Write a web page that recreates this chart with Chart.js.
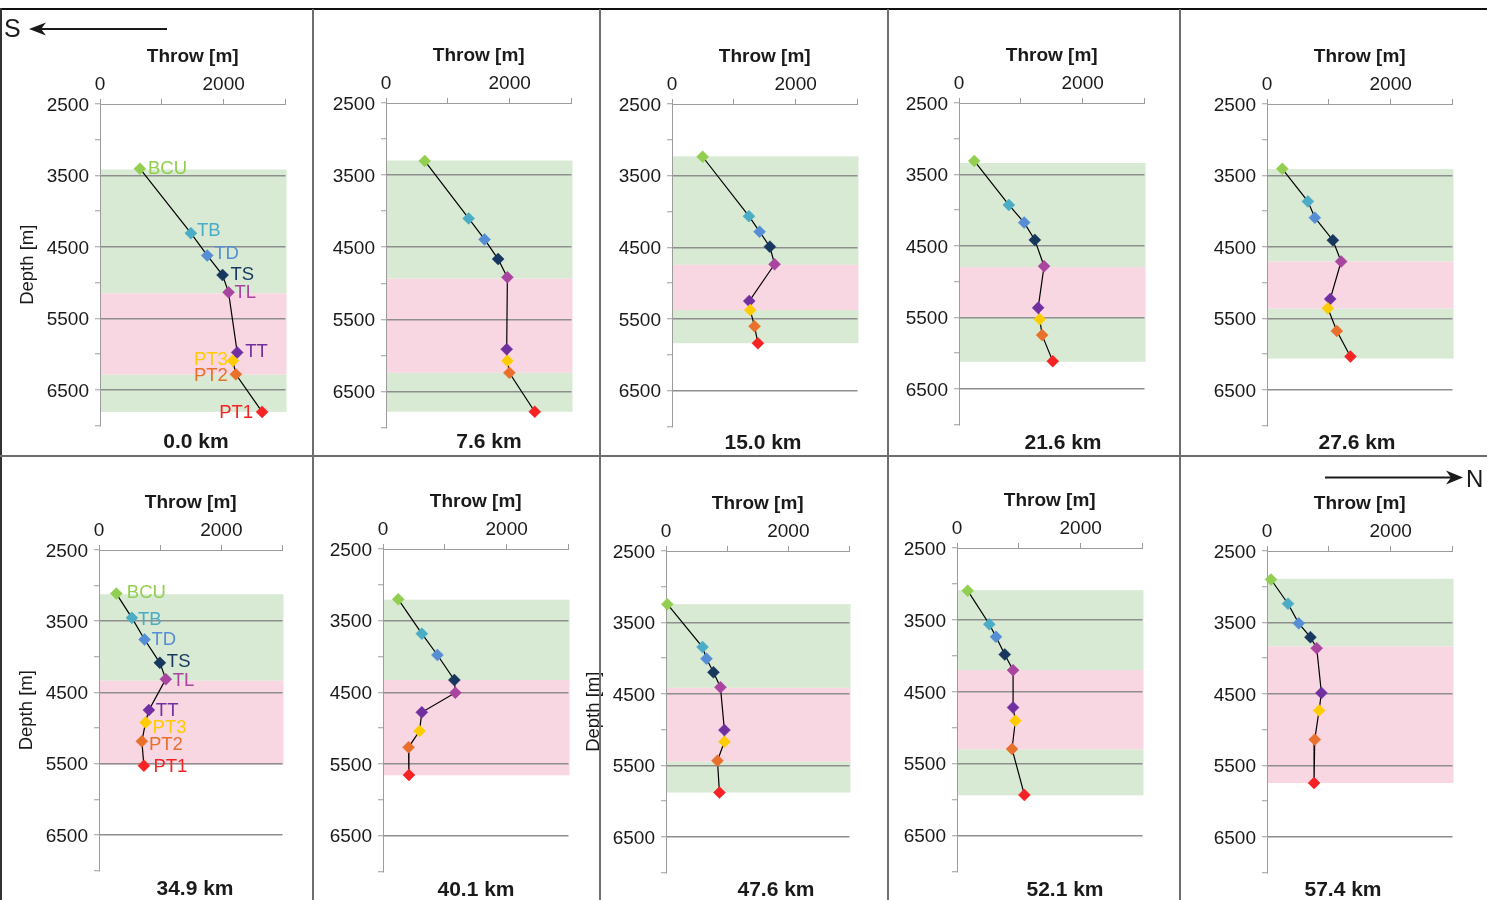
<!DOCTYPE html>
<html>
<head>
<meta charset="utf-8">
<script src="https://cdn.jsdelivr.net/npm/chart.js@4.4.1/dist/chart.umd.min.js"></script>
<style>
  html, body { margin: 0; padding: 0; background: #fff; }
  #sheet { position: relative; width: 1487px; height: 900px; overflow: hidden;
           font-family: 'Liberation Sans', Arial, sans-serif; color: #1a1a1a; }
  #sheet canvas { position: absolute; }
  .rule { position: absolute; background: #6e6e6e; z-index: 5; }
  .cap { position: absolute; font-weight: bold; font-size: 21px; line-height: 21px;
         white-space: nowrap; transform: translateX(-50%); z-index: 4; }
  #marks { position: absolute; left: 0; top: 0; z-index: 6; pointer-events: none; }
</style>
</head>
<body>
<div id="sheet"></div>
<script>
// ---- Horizons picked along the fault, top to bottom ----
const horizons = ['BCU', 'TB', 'TD', 'TS', 'TL', 'TT', 'PT3', 'PT2', 'PT1'];
const horizonColors = ['#92cf50', '#4bacc6', '#558ed5', '#17375e', '#a9449f',
                       '#7030a0', '#ffcc00', '#e8702a', '#f52323'];

// ---- Distance of each section along strike ----
const sectionKm = ['0.0 km', '7.6 km', '15.0 km', '21.6 km', '27.6 km',
                   '34.9 km', '40.1 km', '47.6 km', '52.1 km', '57.4 km'];

// ---- Throw [m] and depth [m] of each horizon, per section ----
const throw00 = [646, 1470, 1734, 1982, 2079, 2219, 2149, 2197, 2622];
const depth00 = [3406, 4308, 4620, 4894, 5136, 5977, 6094, 6284, 6810];
const throw08 = [626, 1337, 1594, 1813, 1963, 1952, 1963, 1995, 2406];
const depth08 = [3303, 4101, 4392, 4664, 4918, 5914, 6076, 6242, 6781];
const throw15 = [495, 1244, 1416, 1583, 1659, 1249, 1265, 1335, 1389];
const depth15 = [3236, 4065, 4282, 4491, 4736, 5250, 5375, 5602, 5838];
const throw22 = [247, 806, 1054, 1226, 1376, 1280, 1306, 1344, 1516];
const depth22 = [3311, 3927, 4174, 4416, 4784, 5367, 5526, 5749, 6113];
const throw28 = [247, 661, 774, 1065, 1199, 1022, 984, 1129, 1349];
const depth28 = [3407, 3863, 4091, 4407, 4705, 5230, 5360, 5677, 6035];
const throw35 = [283, 538, 745, 995, 1092, 815, 761, 701, 734];
const depth35 = [3112, 3453, 3757, 4084, 4313, 4748, 4921, 5187, 5528];
const throw40 = [247, 628, 880, 1154, 1170, 628, 590, 413, 419];
const depth40 = [3202, 3681, 3979, 4328, 4505, 4779, 5040, 5267, 5653];
const throw48 = [22, 597, 662, 776, 890, 955, 955, 841, 874];
const depth48 = [3244, 3844, 4007, 4198, 4407, 5007, 5170, 5435, 5881];
const throw52 = [173, 523, 631, 772, 907, 907, 944, 890, 1090];
const depth52 = [3093, 3560, 3736, 3981, 4199, 4718, 4903, 5296, 5935];
const throw57 = [65, 340, 513, 702, 804, 880, 842, 772, 761];
const depth57 = [2899, 3238, 3512, 3706, 3860, 4486, 4732, 5140, 5748];

const throwSeries = [throw00, throw08, throw15, throw22, throw28, throw35, throw40, throw48, throw52, throw57];
const depthSeries = [depth00, depth08, depth15, depth22, depth28, depth35, depth40, depth48, depth52, depth57];

// ---- Depth intervals [m]: upper green zone, pink zone, lower green zone ----
const greenTop  = [3416, 3298, 3231, 3339, 3412, 3121, 3207, 3244, 3088, 2890];
const pinkTop   = [5150, 4936, 4745, 4798, 4705, 4336, 4328, 4416, 4199, 3836];
const pinkBase  = [6289, 6242, 5375, 5493, 5365, 5514, 5658, 5449, 5301, 5748];
const greenBase = [6810, 6781, 5838, 6122, 6063, null, null, 5881, 5940, null];

// ---- Axis ranges and labelled ticks ----
const throwMin = 0, throwMax = 3000, throwStep = 1000;
const throwLabels = [0, 2000];
const depthMin = 2500, depthMax = 7000, depthStep = 500;
const depthLabels = [2500, 3500, 4500, 5500, 6500];
const depthGrid = [3500, 4500, 5500, 6500];

// ---- Page layout: plot rectangle of each panel (x0, x1, y0, y1) ----
const frames = [
  [100, 286, 104, 426], [386, 572, 103, 428], [672, 858, 104, 427],
  [959, 1145, 103, 425], [1267, 1453, 104, 426],
  [99, 283, 550, 871], [383, 569, 549, 872], [666, 850, 551, 873],
  [957, 1143, 548, 872], [1267, 1453, 551, 873]
];
const captionPos = [[196, 440], [489, 440], [763, 441], [1063, 441], [1357, 441],
                    [195, 887], [476, 888], [776, 888], [1065, 888], [1343, 888]];
const depthTitleOn = [true, false, false, false, false, true, false, true, false, false];
// label offsets (dx, dy, align) for the annotated sections
const labelOffsets = {
  0: [[8, 0, 'left'], [6, -2.5, 'left'], [7, -2, 'left'], [8, -1, 'left'], [6, 0, 'left'],
      [8, -1, 'left'], [-5, -1, 'right'], [-8, 1, 'right'], [-9, 0, 'right']],
  5: [[10.5, -1, 'left'], [6, 2, 'left'], [7, 0, 'left'], [7, -1, 'left'], [7, 1, 'left'],
      [7, 0, 'left'], [7, 4.5, 'left'], [7, 3.5, 'left'], [9.5, 0.5, 'left']]
};

const FONT = "'Liberation Sans', Arial, sans-serif";
const INK = '#1a1a1a';
const AXIS = '#9c9c9c';
const GRID = '#8e8e8e';
const GREEN = 'rgb(216,234,212)';
const PINK = 'rgb(248,214,226)';
Chart.defaults.font.family = FONT;
Chart.defaults.color = INK;

// zone shading, drawn under the grid
const zonePlugin = {
  id: 'zones',
  beforeDraw(chart, args, opts) {
    const y = chart.scales.y, a = chart.chartArea, ctx = chart.ctx;
    const band = (top, base, color) => {
      if (top == null || base == null) return;
      const p0 = y.getPixelForValue(top), p1 = y.getPixelForValue(base);
      ctx.fillStyle = color;
      ctx.fillRect(a.left, p0, a.right - a.left + 1, p1 - p0);
    };
    ctx.save();
    band(opts.greenTop, opts.pinkTop, GREEN);
    band(opts.pinkTop, opts.pinkBase, PINK);
    band(opts.pinkBase, opts.greenBase, GREEN);
    ctx.restore();
  }
};

// horizon names next to the markers
const horizonLabelPlugin = {
  id: 'horizonLabels',
  afterDatasetsDraw(chart, args, opts) {
    if (!opts.offsets) return;
    const {x, y} = chart.scales, ctx = chart.ctx;
    const pts = chart.data.datasets[0].data;
    ctx.save();
    ctx.font = '18.5px ' + FONT;
    ctx.textBaseline = 'middle';
    opts.offsets.forEach((o, i) => {
      ctx.fillStyle = horizonColors[i];
      ctx.textAlign = o[2];
      ctx.fillText(horizons[i], x.getPixelForValue(pts[i].x) + o[0], y.getPixelForValue(pts[i].y) + o[1] + 0.5);
    });
    ctx.restore();
  }
};

const sheet = document.getElementById('sheet');
const L = 83, T = 60, R = 6, B = 6;

frames.forEach((f, i) => {
  const cv = document.createElement('canvas');
  const w = f[1] - f[0] + L + R, h = f[3] - f[2] + T + B;
  cv.width = w; cv.height = h;
  cv.style.left = (f[0] - L) + 'px';
  cv.style.top = (f[2] - T) + 'px';
  cv.style.width = w + 'px'; cv.style.height = h + 'px';
  sheet.appendChild(cv);

  const pts = throwSeries[i].map((t, k) => ({x: t, y: depthSeries[i][k]}));

  new Chart(cv, {
    type: 'scatter',
    data: {
      datasets: [{
        data: pts,
        showLine: true,
        borderColor: '#000',
        borderWidth: 1.2,
        pointStyle: 'rectRot',
        pointRadius: 6,
        pointBorderWidth: 0.5,
        pointBackgroundColor: horizonColors,
        pointBorderColor: horizonColors,
        clip: false
      }]
    },
    options: {
      responsive: false,
      animation: false,
      devicePixelRatio: 1,
      layout: { padding: { left: 0, top: 0, right: R, bottom: B } },
      plugins: {
        legend: { display: false },
        tooltip: { enabled: false },
        zones: { greenTop: greenTop[i], pinkTop: pinkTop[i], pinkBase: pinkBase[i], greenBase: greenBase[i] },
        horizonLabels: { offsets: labelOffsets[i] || null }
      },
      scales: {
        x: {
          type: 'linear', position: 'top', min: throwMin, max: throwMax,
          afterFit: s => { s.height = T; s.paddingLeft = 0; s.paddingRight = 0; },
          ticks: {
            stepSize: throwStep, autoSkip: false, maxRotation: 0, padding: 3,
            font: { size: 19 }, color: INK,
            callback: v => throwLabels.includes(v) ? String(v) : ''
          },
          grid: { drawOnChartArea: false, drawTicks: true, tickLength: 5, tickColor: AXIS, tickWidth: 1 },
          border: { display: true, color: AXIS, width: 1 },
          title: { display: true, text: 'Throw [m]', color: INK, padding: { top: 1.5, bottom: 0 },
                   font: { size: 19, weight: 'bold' } }
        },
        y: {
          type: 'linear', position: 'left', reverse: true, min: depthMin, max: depthMax,
          afterFit: s => { s.width = L; s.paddingTop = 0; s.paddingBottom = 0; },
          ticks: {
            stepSize: depthStep, autoSkip: false, padding: 6, labelOffset: 1.5,
            font: { size: 19 }, color: INK,
            callback: v => depthLabels.includes(v) ? String(v) : ''
          },
          grid: {
            drawTicks: true, tickLength: 5, tickColor: AXIS, tickWidth: 1,
            lineWidth: 1.5,
            color: c => (c.tick && depthGrid.includes(c.tick.value)) ? GRID : 'rgba(0,0,0,0)'
          },
          border: { display: true, color: AXIS, width: 1 },
          title: { display: depthTitleOn[i], text: 'Depth [m]', color: INK, padding: 0,
                   font: { size: 18.5 } }
        }
      }
    },
    plugins: [zonePlugin, horizonLabelPlugin]
  });

  const cap = document.createElement('div');
  cap.className = 'cap';
  cap.textContent = sectionKm[i];
  cap.style.left = captionPos[i][0] + 'px';
  cap.style.top = (captionPos[i][1] - 10) + 'px';
  sheet.appendChild(cap);
});

// panel frame rules
const addRule = (l, t, w, h, color) => {
  const d = document.createElement('div');
  d.className = 'rule';
  d.style.left = l + 'px'; d.style.top = t + 'px';
  d.style.width = w + 'px'; d.style.height = h + 'px';
  if (color) d.style.background = color;
  sheet.appendChild(d);
};
addRule(0, 8, 1487, 2, '#111');
addRule(0, 8, 2, 892, '#333');
[312, 599, 887, 1179].forEach(x => addRule(x, 9, 2, 891));
addRule(0, 455, 1487, 2);

// strike direction arrows
sheet.insertAdjacentHTML('beforeend', `
<svg id="marks" width="1487" height="900" xmlns="http://www.w3.org/2000/svg">
  <text x="4" y="37" font-family="${FONT.replace(/'/g, '')}" font-size="25" fill="${INK}">S</text>
  <line x1="40" y1="29" x2="167" y2="29" stroke="${INK}" stroke-width="2"/>
  <polygon points="29,29 46,22.5 41,29 46,35.5" fill="${INK}"/>
  <line x1="1325" y1="477.5" x2="1452" y2="477.5" stroke="${INK}" stroke-width="2"/>
  <polygon points="1463,477.5 1446,470.5 1451,477.5 1446,484.5" fill="${INK}"/>
  <text x="1466" y="487" font-family="${FONT.replace(/'/g, '')}" font-size="24" fill="${INK}">N</text>
</svg>`);
</script>
</body>
</html>
